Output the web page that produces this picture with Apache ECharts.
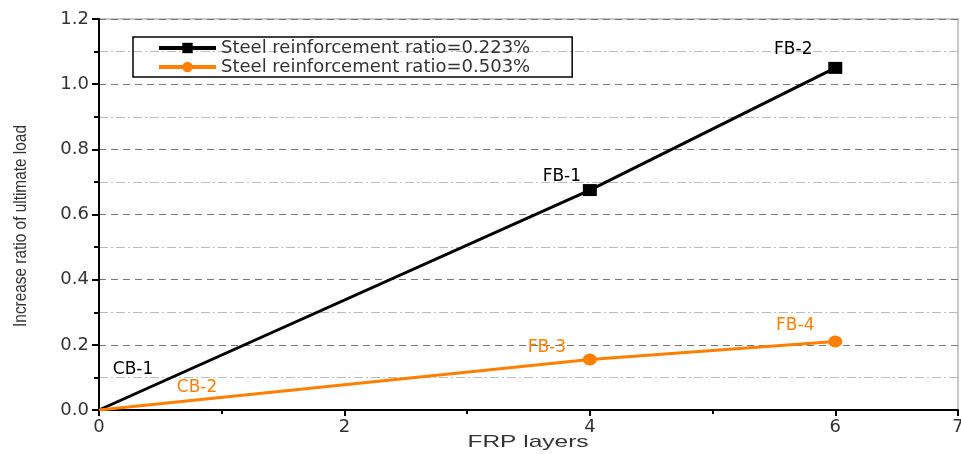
<!DOCTYPE html>
<html>
<head>
<meta charset="utf-8">
<script src="https://cdn.jsdelivr.net/npm/echarts@6/dist/echarts.min.js"></script>
<style>
  html, body { margin: 0; padding: 0; background: #fff; }
  #chart { width: 961px; height: 454px; }
</style>
</head>
<body>
<div id="chart"></div>
<script>
// FRP layers
const layers = [0, 4, 6]
// increase ratio of ultimate load
const ratio0223 = [0, 0.675, 1.05]
const ratio0503 = [0, 0.155, 0.21]
const names0223 = ['CB-1', 'FB-1', 'FB-2']
const names0503 = ['CB-2', 'FB-3', 'FB-4']
const seriesNames = ['Steel reinforcement ratio=0.223%', 'Steel reinforcement ratio=0.503%']

const chart = echarts.init(document.getElementById('chart'))
const FONT = 'DejaVu Sans, Verdana, sans-serif'

// label offsets (px, relative to the point)
const offsBlack = [[34, -40], [-28, -13], [-42, -18]]
const offsOrange = [[98, -22], [-43, -12], [-40, -16]]

function build(ys, names, offs, color) {
  return ys.map((y, i) => ({
    value: [layers[i], y],
    symbolSize: i === 0 ? 0 : [14, 12],
    label: {
      show: true,
      position: 'inside',
      offset: offs[i],
      formatter: names[i],
      color: color,
      fontSize: 17,
      fontFamily: FONT
    }
  }))
}

const black = '#000'
const orange = '#ff7f00'

chart.setOption({
  animation: false,
  grid: {
    left: 99, right: 3, top: 19, bottom: 44,
    outerBoundsMode: 'none',
    containLabel: false,
    show: true, borderColor: '#c8c8c8', borderWidth: 2
  },
  legend: {
    left: 133, top: 37,
    orient: 'vertical',
    borderColor: '#000', borderWidth: 1.5,
    padding: [2, 42, 1, 24],
    itemGap: 1,
    itemWidth: 57, itemHeight: 13,
    lineStyle: { width: 4 },
    data: seriesNames,
    textStyle: { fontSize: 18, lineHeight: 17, color: '#333', fontFamily: FONT }
  },
  graphic: [{
    type: 'text',
    x: 21, y: 226,
    rotation: Math.PI / 2,
    scaleX: 0.81,
    style: {
      text: 'Increase ratio of ultimate load',
      fill: '#333',
      fontSize: 19,
      fontFamily: 'Liberation Sans, Arial, sans-serif',
      align: 'center',
      verticalAlign: 'middle'
    }
  }, {
    type: 'text',
    x: 528, y: 434,
    scaleX: 1.44,
    style: {
      text: 'FRP layers',
      fill: '#333',
      fontSize: 17,
      fontFamily: 'Liberation Sans, Arial, sans-serif',
      align: 'center',
      verticalAlign: 'top'
    }
  }],
  xAxis: {
    type: 'value',
    min: 0, max: 7, interval: 2,
    axisLine: { lineStyle: { color: '#000', width: 2 } },
    axisTick: { show: true, length: 6, lineStyle: { color: '#000', width: 2 } },
    minorTick: { show: true, splitNumber: 2, length: 4, lineStyle: { color: '#000', width: 2 } },
    axisLabel: { fontSize: 18, color: '#333', margin: 8, fontFamily: FONT },
    splitLine: { show: false }
  },
  yAxis: {
    type: 'value',
    min: 0, max: 1.2, interval: 0.2,
    axisLine: { show: true, lineStyle: { color: '#000', width: 2 } },
    axisTick: { show: true, length: 7, lineStyle: { color: '#000', width: 2 } },
    minorTick: { show: true, splitNumber: 2, length: 5, lineStyle: { color: '#000', width: 2 } },
    axisLabel: {
      fontSize: 18, color: '#333', margin: 10,
      fontFamily: FONT,
      formatter: v => v.toFixed(1)
    },
    splitLine: { show: true, lineStyle: { color: '#777', type: [7, 5], width: 1 } },
    minorSplitLine: { show: true, lineStyle: { color: '#bbb', type: [9, 3, 2, 3], width: 1 } }
  },
  series: [
    {
      name: seriesNames[0],
      type: 'line',
      symbol: 'rect',
      itemStyle: { color: black },
      lineStyle: { color: black, width: 3 },
      data: build(ratio0223, names0223, offsBlack, black)
    },
    {
      name: seriesNames[1],
      type: 'line',
      symbol: 'circle',
      itemStyle: { color: orange },
      lineStyle: { color: orange, width: 3 },
      data: build(ratio0503, names0503, offsOrange, orange)
    }
  ]
})
</script>
</body>
</html>
